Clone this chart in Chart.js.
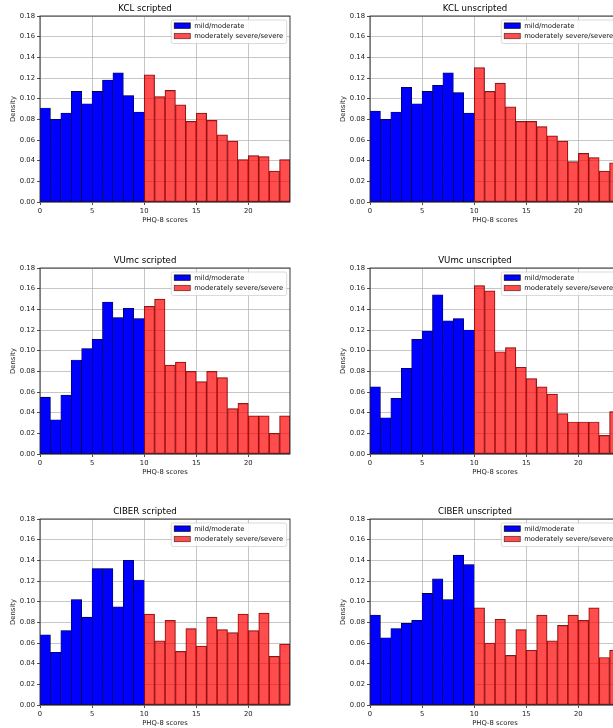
<!DOCTYPE html>
<html>
<head>
<meta charset="utf-8">
<script src="https://cdn.jsdelivr.net/npm/chart.js@4"></script>
<style>
  html, body { margin: 0; padding: 0; background: #fff; overflow: hidden; }
  #figure { position: relative; width: 640px; height: 728px; }
  #figure canvas { position: absolute; }
</style>
</head>
<body>
<div id="figure"></div>
<script>
// 히스토그램 구간: 0-10 mild/moderate, 10-24 moderately severe/severe (폭 1)
const mildBinStarts = [0, 1, 2, 3, 4, 5, 6, 7, 8, 9];
const severeBinStarts = [10, 11, 12, 13, 14, 15, 16, 17, 18, 19, 20, 21, 22, 23];
const xTickValues = [0, 5, 10, 15, 20];
const yTickValues = [0, 0.02, 0.04, 0.06, 0.08, 0.10, 0.12, 0.14, 0.16, 0.18];
const legendLabels = ['mild/moderate', 'moderately severe/severe'];
const xAxisLabel = 'PHQ-8 scores';
const yAxisLabel = 'Density';

// 밀도 값
const kclScriptedMild = [0.091, 0.080, 0.086, 0.107, 0.095, 0.107, 0.118, 0.125, 0.103, 0.087];
const kclScriptedSevere = [0.123, 0.102, 0.108, 0.094, 0.078, 0.086, 0.079, 0.065, 0.059, 0.041, 0.045, 0.044, 0.030, 0.041];
const kclUnscriptedMild = [0.088, 0.080, 0.087, 0.111, 0.095, 0.107, 0.113, 0.125, 0.106, 0.086];
const kclUnscriptedSevere = [0.130, 0.107, 0.115, 0.092, 0.078, 0.078, 0.073, 0.064, 0.059, 0.039, 0.047, 0.043, 0.030, 0.038];
const vumcScriptedMild = [0.055, 0.033, 0.057, 0.091, 0.102, 0.111, 0.147, 0.132, 0.141, 0.131];
const vumcScriptedSevere = [0.143, 0.150, 0.086, 0.089, 0.080, 0.070, 0.080, 0.074, 0.044, 0.049, 0.037, 0.037, 0.020, 0.037];
const vumcUnscriptedMild = [0.065, 0.035, 0.054, 0.083, 0.111, 0.119, 0.154, 0.129, 0.131, 0.120];
const vumcUnscriptedSevere = [0.163, 0.158, 0.099, 0.103, 0.084, 0.073, 0.065, 0.058, 0.039, 0.031, 0.031, 0.031, 0.018, 0.041];
const ciberScriptedMild = [0.068, 0.051, 0.072, 0.102, 0.085, 0.132, 0.132, 0.095, 0.140, 0.121];
const ciberScriptedSevere = [0.088, 0.062, 0.082, 0.052, 0.074, 0.057, 0.085, 0.073, 0.070, 0.088, 0.072, 0.089, 0.047, 0.059];
const ciberUnscriptedMild = [0.087, 0.065, 0.074, 0.079, 0.082, 0.108, 0.122, 0.102, 0.145, 0.136];
const ciberUnscriptedSevere = [0.094, 0.060, 0.083, 0.048, 0.073, 0.053, 0.087, 0.062, 0.077, 0.087, 0.082, 0.094, 0.046, 0.053];

const FONT = '"DejaVu Sans", "Liberation Sans", sans-serif';
const BLUE = '#0000ff';
const RED = 'rgba(255, 0, 0, 0.7)';
const RED_EDGE = '#5a2424';
const GRID = 'rgba(176, 176, 176, 0.9)';

const panels = [
  { title: 'KCL scripted', mild: kclScriptedMild, severe: kclScriptedSevere, left: 0, top: 0 },
  { title: 'KCL unscripted', mild: kclUnscriptedMild, severe: kclUnscriptedSevere, left: 330, top: 0 },
  { title: 'VUmc scripted', mild: vumcScriptedMild, severe: vumcScriptedSevere, left: 0, top: 252 },
  { title: 'VUmc unscripted', mild: vumcUnscriptedMild, severe: vumcUnscriptedSevere, left: 330, top: 252 },
  { title: 'CIBER scripted', mild: ciberScriptedMild, severe: ciberScriptedSevere, left: 0, top: 503 },
  { title: 'CIBER unscripted', mild: ciberUnscriptedMild, severe: ciberUnscriptedSevere, left: 330, top: 503 }
];

// 축 테두리와 범례를 차트 영역 위에 그림
const frameAndLegend = {
  id: 'frameAndLegend',
  afterDraw(chart) {
    const ctx = chart.ctx;
    const area = chart.chartArea;
    ctx.save();

    ctx.strokeStyle = '#222';
    ctx.lineWidth = 0.9;
    ctx.strokeRect(area.left, area.top, area.right - area.left, area.bottom - area.top);

    ctx.font = '6.8px ' + FONT;
    const textW = Math.max(...legendLabels.map(t => ctx.measureText(t).width));
    const boxW = 3 + 16 + 4 + textW + 3.5;
    const boxH = 23.5;
    const bx = area.right - 3.3 - boxW;
    const by = area.top + 4;

    ctx.beginPath();
    ctx.roundRect(bx, by, boxW, boxH, 2);
    ctx.fillStyle = 'rgba(255, 255, 255, 0.85)';
    ctx.fill();
    ctx.strokeStyle = '#cccccc';
    ctx.lineWidth = 0.7;
    ctx.stroke();

    const rows = [
      { fill: BLUE, edge: '#000', y: by + 5.6 },
      { fill: RED, edge: RED_EDGE, y: by + 16 }
    ];
    rows.forEach((row, i) => {
      ctx.fillStyle = '#fff';
      ctx.fillRect(bx + 3, row.y - 2.7, 16, 5.4);
      ctx.fillStyle = row.fill;
      ctx.fillRect(bx + 3, row.y - 2.7, 16, 5.4);
      ctx.strokeStyle = row.edge;
      ctx.lineWidth = 0.7;
      ctx.strokeRect(bx + 3, row.y - 2.7, 16, 5.4);
      ctx.fillStyle = '#111';
      ctx.textAlign = 'left';
      ctx.textBaseline = 'middle';
      ctx.fillText(legendLabels[i], bx + 23, row.y + 0.3);
    });

    ctx.restore();
  }
};

function makePanel(panel) {
  const canvas = document.createElement('canvas');
  canvas.width = 300;
  canvas.height = 226;
  canvas.style.left = panel.left + 'px';
  canvas.style.top = panel.top + 'px';
  document.getElementById('figure').appendChild(canvas);

  const mildPoints = mildBinStarts.map((s, i) => ({ x: s + 0.5, y: panel.mild[i] }));
  const severePoints = severeBinStarts.map((s, i) => ({ x: s + 0.5, y: panel.severe[i] }));

  const config = {
    type: 'bar',
    data: {
      datasets: [
        {
          label: legendLabels[0],
          data: mildPoints,
          backgroundColor: BLUE,
          borderColor: '#000',
          borderWidth: 0.55,
          borderSkipped: false,
          grouped: false,
          barPercentage: 1,
          categoryPercentage: 1
        },
        {
          label: legendLabels[1],
          data: severePoints,
          backgroundColor: RED,
          borderColor: RED_EDGE,
          borderWidth: 0.55,
          borderSkipped: false,
          grouped: false,
          barPercentage: 1,
          categoryPercentage: 1
        }
      ]
    },
    options: {
      responsive: false,
      animation: false,
      devicePixelRatio: 1,
      layout: { padding: { left: 0, right: 10, top: 0, bottom: 0 } },
      plugins: {
        legend: { display: false },
        tooltip: { enabled: false },
        title: {
          display: true,
          text: panel.title,
          color: '#000',
          font: { family: FONT, size: 8.6, weight: 'normal', lineHeight: 1.2 },
          padding: { top: 3.4, bottom: 2.3 }
        }
      },
      scales: {
        x: {
          type: 'linear',
          min: 0,
          max: 24,
          offset: false,
          z: 1,
          afterFit: scale => { scale.height = 24; },
          afterBuildTicks: scale => { scale.ticks = xTickValues.map(v => ({ value: v })); },
          grid: { offset: false, color: GRID, lineWidth: 0.8, drawTicks: true, tickLength: 3, tickColor: '#222' },
          border: { display: false },
          ticks: { color: '#1a1a1a', font: { family: FONT, size: 6.8 }, padding: 1.8, maxRotation: 0 },
          title: { display: true, text: xAxisLabel, color: '#1a1a1a', font: { family: FONT, size: 6.8 }, padding: { top: 0, bottom: 1.8 } }
        },
        y: {
          min: 0,
          max: 0.18,
          z: 1,
          afterFit: scale => { scale.width = 40; },
          afterBuildTicks: scale => { scale.ticks = yTickValues.map(v => ({ value: v })); },
          grid: { color: GRID, lineWidth: 0.8, drawTicks: true, tickLength: 3, tickColor: '#222' },
          border: { display: false },
          ticks: { color: '#1a1a1a', font: { family: FONT, size: 6.8 }, padding: 2, callback: v => v.toFixed(2) },
          title: { display: true, text: yAxisLabel, color: '#1a1a1a', font: { family: FONT, size: 6.8 }, padding: { top: 9.3, bottom: 0 } }
        }
      }
    },
    plugins: [frameAndLegend]
  };

  return new Chart(canvas, config);
}

panels.forEach(makePanel);
</script>
</body>
</html>
